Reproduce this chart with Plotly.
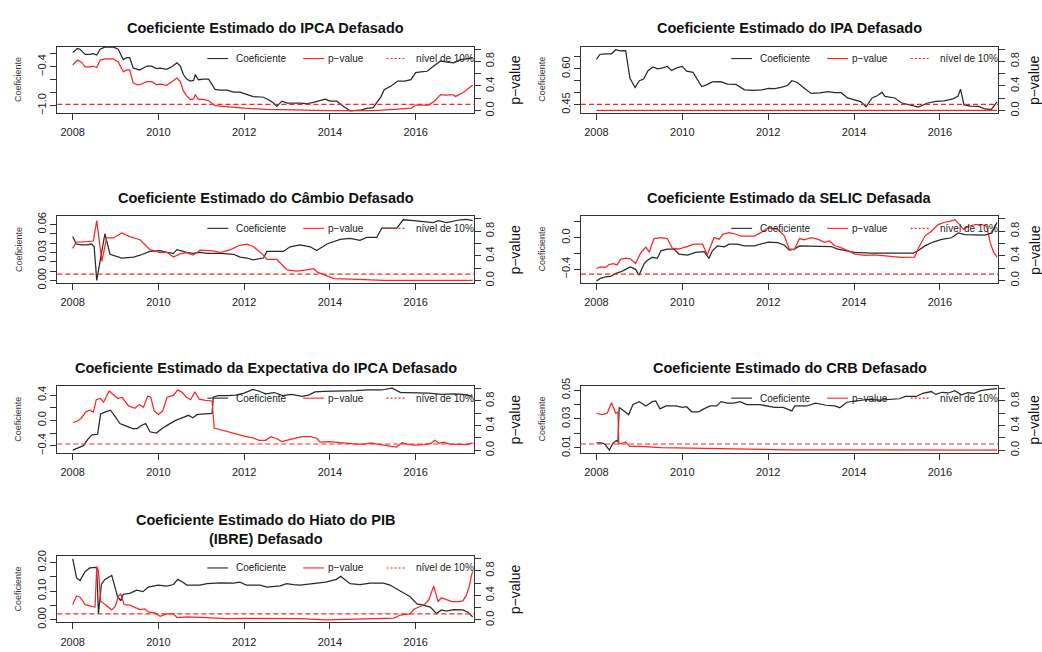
import plotly.graph_objects as go

FONT = "Liberation Sans, Arial, Helvetica, sans-serif"
BLACK = "#2a2a2a"
RED = "#ff2424"
AXIS = "#333333"

# ---------------- IPCA ----------------
ipca_coef_t = [2008.00, 2008.11, 2008.17, 2008.29, 2008.40, 2008.48, 2008.56, 2008.64, 2008.75, 2008.95,
               2009.06, 2009.18, 2009.26, 2009.33, 2009.41, 2009.49, 2009.56, 2009.73, 2009.84, 2009.96,
               2010.04, 2010.19, 2010.31, 2010.43, 2010.51, 2010.58, 2010.66, 2010.74, 2010.82, 2010.86,
               2010.93, 2011.05, 2011.17, 2011.32, 2011.44, 2011.60, 2011.75, 2011.90, 2012.06, 2012.21,
               2012.45, 2012.60, 2012.68, 2012.76, 2012.88, 2013.00, 2013.30, 2013.46, 2013.61, 2013.77,
               2013.89, 2014.00, 2014.16, 2014.31, 2014.47, 2014.70, 2014.86, 2015.01, 2015.19, 2015.27,
               2015.42, 2015.58, 2015.74, 2015.89, 2016.00, 2016.12, 2016.27, 2016.42, 2016.58, 2016.73,
               2016.89, 2017.04, 2017.20, 2017.33]
ipca_coef = [-0.18, -0.12, -0.13, -0.21, -0.21, -0.20, -0.22, -0.13, -0.10, -0.10,
             -0.13, -0.29, -0.26, -0.26, -0.42, -0.44, -0.45, -0.39, -0.39, -0.43,
             -0.42, -0.44, -0.40, -0.34, -0.39, -0.52, -0.59, -0.62, -0.61, -0.52,
             -0.60, -0.59, -0.59, -0.75, -0.76, -0.76, -0.79, -0.79, -0.83, -0.86,
             -0.87, -0.92, -0.96, -1.01, -0.93, -0.96, -0.96, -0.97, -0.95, -0.92,
             -0.90, -0.93, -0.93, -1.01, -1.08, -1.07, -1.04, -1.03, -0.86, -0.75,
             -0.70, -0.62, -0.62, -0.60, -0.49, -0.48, -0.47, -0.39, -0.31, -0.33,
             -0.34, -0.29, -0.28, -0.26]
ipca_p_t = [2008.00, 2008.11, 2008.20, 2008.29, 2008.40, 2008.48, 2008.56, 2008.64, 2008.75, 2008.95,
            2009.06, 2009.18, 2009.26, 2009.33, 2009.41, 2009.49, 2009.56, 2009.73, 2009.84, 2009.96,
            2010.04, 2010.19, 2010.31, 2010.43, 2010.51, 2010.58, 2010.66, 2010.74, 2010.82, 2010.86,
            2010.93, 2011.05, 2011.17, 2011.32, 2011.50, 2011.75, 2012.00, 2012.50, 2013.00, 2013.50,
            2014.00, 2014.50, 2015.00, 2015.50, 2015.90, 2016.00, 2016.30, 2016.45, 2016.58, 2016.70,
            2016.85, 2016.93, 2017.10, 2017.25, 2017.33]
ipca_p = [0.74, 0.82, 0.79, 0.71, 0.71, 0.72, 0.70, 0.82, 0.84, 0.84,
          0.79, 0.63, 0.66, 0.66, 0.45, 0.42, 0.42, 0.47, 0.47, 0.42,
          0.43, 0.41, 0.47, 0.53, 0.47, 0.32, 0.24, 0.18, 0.19, 0.26,
          0.18, 0.18, 0.16, 0.08, 0.07, 0.05, 0.04, 0.02, 0.01, 0.01,
          0.00, 0.00, 0.00, 0.02, 0.04, 0.09, 0.09, 0.16, 0.26, 0.25,
          0.26, 0.23, 0.29, 0.37, 0.41]
ipca_ticks = [-1.0, -0.8, -0.6, -0.4, -0.2]
ipca_ticktext = ["\u22121.0", "", "", "\u22120.4", ""]

# ---------------- IPA ----------------
ipa_coef_t = [2008.00, 2008.08, 2008.20, 2008.35, 2008.45, 2008.55, 2008.68, 2008.78, 2008.90, 2009.00,
              2009.10, 2009.20, 2009.32, 2009.42, 2009.52, 2009.65, 2009.75, 2009.88, 2010.00, 2010.10,
              2010.25, 2010.35, 2010.45, 2010.55, 2010.70, 2010.90, 2011.05, 2011.25, 2011.45, 2011.65,
              2011.85, 2012.00, 2012.15, 2012.30, 2012.45, 2012.55, 2012.68, 2012.85, 2013.00, 2013.20,
              2013.40, 2013.55, 2013.70, 2013.85, 2014.00, 2014.15, 2014.28, 2014.42, 2014.55, 2014.65,
              2014.72, 2014.95, 2015.10, 2015.30, 2015.50, 2015.70, 2015.90, 2016.10, 2016.30, 2016.42,
              2016.48, 2016.56, 2016.70, 2016.90, 2017.05, 2017.20, 2017.33]
ipa_coef = [0.640, 0.660, 0.663, 0.663, 0.680, 0.675, 0.676, 0.560, 0.522, 0.550,
            0.557, 0.592, 0.608, 0.600, 0.603, 0.610, 0.593, 0.605, 0.610, 0.590,
            0.585, 0.555, 0.526, 0.532, 0.545, 0.546, 0.536, 0.535, 0.512, 0.510,
            0.512, 0.518, 0.517, 0.522, 0.530, 0.550, 0.543, 0.518, 0.497, 0.499,
            0.505, 0.500, 0.500, 0.478, 0.470, 0.463, 0.441, 0.478, 0.488, 0.502,
            0.485, 0.478, 0.458, 0.448, 0.440, 0.456, 0.464, 0.466, 0.474, 0.485,
            0.515, 0.450, 0.444, 0.443, 0.432, 0.430, 0.462]
ipa_p_t = [2008.00, 2008.60, 2008.75, 2008.90, 2009.00, 2017.33]
ipa_p = [0.004, 0.004, 0.012, 0.008, 0.003, 0.002]
ipa_ticks = [0.45, 0.50, 0.55, 0.60, 0.65]
ipa_ticktext = ["0.45", "", "", "0.60", ""]

# ---------------- Câmbio ----------------
cambio_coef_t = [2008.00, 2008.08, 2008.21, 2008.33, 2008.44, 2008.50, 2008.56, 2008.64, 2008.75, 2008.87,
                 2009.14, 2009.42, 2009.57, 2009.80, 2010.04, 2010.19, 2010.35, 2010.43, 2010.66, 2010.81,
                 2010.97, 2011.13, 2011.44, 2011.75, 2011.90, 2012.06, 2012.21, 2012.45, 2012.53, 2012.91,
                 2013.07, 2013.30, 2013.54, 2013.69, 2013.93, 2014.24, 2014.47, 2014.70, 2014.86, 2015.09,
                 2015.21, 2015.56, 2015.71, 2015.95, 2016.26, 2016.41, 2016.53, 2016.72, 2017.04, 2017.19,
                 2017.33]
cambio_coef = [0.047, 0.039, 0.038, 0.038, 0.039, 0.036, 0.000, 0.020, 0.050, 0.028,
               0.024, 0.025, 0.027, 0.031, 0.032, 0.030, 0.029, 0.033, 0.030, 0.029,
               0.030, 0.029, 0.029, 0.028, 0.025, 0.024, 0.022, 0.024, 0.031, 0.031,
               0.036, 0.038, 0.036, 0.032, 0.039, 0.044, 0.045, 0.043, 0.046, 0.046,
               0.056, 0.056, 0.065, 0.064, 0.063, 0.062, 0.064, 0.062, 0.065, 0.0655,
               0.064]
cambio_p_t = [2008.00, 2008.08, 2008.33, 2008.48, 2008.56, 2008.68, 2008.79, 2008.95, 2009.14, 2009.33,
              2009.57, 2009.80, 2010.04, 2010.19, 2010.35, 2010.50, 2010.66, 2010.81, 2010.97, 2011.28,
              2011.44, 2011.68, 2011.90, 2012.06, 2012.21, 2012.45, 2012.53, 2012.76, 2013.00, 2013.23,
              2013.46, 2013.62, 2013.72, 2013.93, 2014.09, 2014.50, 2014.86, 2015.25, 2017.33]
cambio_p = [0.52, 0.62, 0.63, 0.64, 0.97, 0.31, 0.69, 0.69, 0.77, 0.71,
            0.66, 0.50, 0.45, 0.46, 0.38, 0.43, 0.45, 0.41, 0.49, 0.48,
            0.45, 0.50, 0.57, 0.59, 0.55, 0.41, 0.34, 0.34, 0.17, 0.15,
            0.17, 0.19, 0.13, 0.08, 0.03, 0.02, 0.01, 0.00, 0.00]
cambio_ticks = [0.00, 0.01, 0.02, 0.03, 0.04, 0.05, 0.06]
cambio_ticktext = ["0.00", "", "", "0.03", "", "", "0.06"]

# ---------------- SELIC ----------------
selic_coef_t = [2008.00, 2008.09, 2008.21, 2008.33, 2008.44, 2008.56, 2008.68, 2008.79, 2008.91, 2008.99,
                2009.11, 2009.18, 2009.30, 2009.42, 2009.50, 2009.65, 2009.81, 2009.92, 2010.12, 2010.31,
                2010.51, 2010.62, 2010.70, 2010.82, 2010.98, 2011.09, 2011.29, 2011.44, 2011.68, 2011.83,
                2012.00, 2012.22, 2012.38, 2012.49, 2012.61, 2012.73, 2013.00, 2013.23, 2013.47, 2013.62,
                2013.86, 2014.01, 2014.40, 2014.79, 2015.18, 2015.38, 2015.49, 2015.65, 2015.84, 2016.04,
                2016.27, 2016.43, 2016.58, 2016.82, 2017.05, 2017.21, 2017.33]
selic_coef = [-0.548, -0.515, -0.495, -0.490, -0.454, -0.433, -0.400, -0.371, -0.400, -0.474,
              -0.330, -0.289, -0.247, -0.260, -0.165, -0.144, -0.144, -0.206, -0.219, -0.186,
              -0.177, -0.260, -0.165, -0.103, -0.115, -0.082, -0.082, -0.103, -0.103, -0.082,
              -0.054, -0.062, -0.095, -0.157, -0.144, -0.103, -0.103, -0.111, -0.111, -0.144,
              -0.165, -0.186, -0.194, -0.194, -0.198, -0.194, -0.165, -0.103, -0.054, -0.021,
              0.000, 0.062, 0.041, 0.033, 0.033, 0.062, 0.194]
selic_p_t = [2008.00, 2008.09, 2008.21, 2008.29, 2008.40, 2008.48, 2008.56, 2008.68, 2008.79, 2008.91,
             2009.03, 2009.15, 2009.23, 2009.34, 2009.50, 2009.65, 2009.77, 2009.92, 2010.12, 2010.27,
             2010.47, 2010.58, 2010.74, 2010.86, 2010.94, 2011.09, 2011.25, 2011.37, 2011.68, 2011.83,
             2012.00, 2012.22, 2012.38, 2012.49, 2012.61, 2012.73, 2012.84, 2013.00, 2013.15, 2013.31,
             2013.43, 2013.55, 2013.66, 2013.86, 2014.00, 2014.25, 2014.48, 2014.71, 2014.87, 2015.10,
             2015.41, 2015.49, 2015.65, 2015.80, 2015.96, 2016.11, 2016.23, 2016.35, 2016.48, 2016.55,
             2016.67, 2016.82, 2016.98, 2017.09, 2017.17, 2017.25, 2017.33]
selic_p = [0.193, 0.220, 0.210, 0.257, 0.273, 0.250, 0.342, 0.363, 0.350, 0.273,
           0.447, 0.537, 0.458, 0.680, 0.696, 0.680, 0.520, 0.510, 0.553, 0.590,
           0.590, 0.416, 0.696, 0.670, 0.749, 0.776, 0.750, 0.720, 0.720, 0.776,
           0.855, 0.830, 0.720, 0.510, 0.500, 0.680, 0.660, 0.696, 0.670, 0.617,
           0.640, 0.563, 0.540, 0.485, 0.432, 0.405, 0.416, 0.400, 0.379, 0.375,
           0.379, 0.510, 0.720, 0.800, 0.907, 0.945, 0.960, 0.987, 0.890, 0.830,
           0.880, 0.907, 0.907, 0.880, 0.617, 0.458, 0.379]
selic_ticks = [-0.4, -0.2, 0.0, 0.2]
selic_ticktext = ["\u22120.4", "", "0.0", ""]

# ---------------- Expectativa do IPCA ----------------
expec_coef_t = [2008.00, 2008.10, 2008.25, 2008.35, 2008.45, 2008.58, 2008.65, 2008.75, 2008.88, 2009.00,
                2009.10, 2009.25, 2009.40, 2009.50, 2009.60, 2009.70, 2009.80, 2009.95, 2010.10, 2010.25,
                2010.40, 2010.55, 2010.70, 2010.80, 2010.90, 2011.00, 2011.15, 2011.25, 2011.28, 2011.40,
                2011.60, 2011.80, 2012.00, 2012.20, 2012.35, 2012.50, 2012.70, 2012.90, 2013.10, 2013.35,
                2013.50, 2013.65, 2013.85, 2014.00, 2014.30, 2014.60, 2014.90, 2015.20, 2015.45, 2015.55,
                2015.65, 2015.80, 2016.00, 2016.30, 2016.60, 2016.90, 2017.10, 2017.33]
expec_coef = [-0.47, -0.44, -0.40, -0.30, -0.23, -0.22, 0.10, 0.13, 0.16, 0.05,
              -0.05, -0.09, -0.13, -0.13, -0.08, -0.05, -0.18, -0.20, -0.12, -0.06,
              0.00, 0.04, 0.08, 0.04, 0.09, 0.10, 0.10, 0.11, 0.37, 0.39,
              0.39, 0.40, 0.43, 0.49, 0.46, 0.42, 0.44, 0.39, 0.41, 0.38,
              0.40, 0.45, 0.46, 0.46, 0.47, 0.47, 0.48, 0.48, 0.51, 0.47,
              0.44, 0.44, 0.44, 0.43, 0.41, 0.42, 0.41, 0.38]
expec_p_t = [2008.00, 2008.10, 2008.20, 2008.30, 2008.40, 2008.48, 2008.55, 2008.65, 2008.72, 2008.85,
             2008.95, 2009.05, 2009.15, 2009.30, 2009.45, 2009.55, 2009.65, 2009.75, 2009.82, 2009.90,
             2010.00, 2010.10, 2010.20, 2010.35, 2010.45, 2010.55, 2010.65, 2010.75, 2010.85, 2010.95,
             2011.10, 2011.25, 2011.30, 2011.45, 2011.60, 2011.80, 2012.00, 2012.20, 2012.35, 2012.50,
             2012.62, 2012.75, 2012.88, 2013.10, 2013.35, 2013.55, 2013.70, 2013.77, 2014.00, 2014.30,
             2014.60, 2014.80, 2014.95, 2015.10, 2015.30, 2015.55, 2015.68, 2015.85, 2016.00, 2016.20,
             2016.35, 2016.45, 2016.55, 2016.65, 2016.80, 2017.00, 2017.20, 2017.33]
expec_p = [0.45, 0.47, 0.52, 0.62, 0.65, 0.62, 0.82, 0.84, 0.78, 0.96,
           0.90, 0.84, 0.86, 0.72, 0.68, 0.74, 0.70, 0.88, 0.86, 0.64,
           0.58, 0.64, 0.86, 0.89, 0.98, 0.94, 0.86, 0.82, 0.95, 0.83,
           0.81, 0.80, 0.36, 0.33, 0.30, 0.26, 0.23, 0.20, 0.16, 0.16,
           0.22, 0.19, 0.14, 0.18, 0.22, 0.22, 0.19, 0.13, 0.14, 0.12,
           0.10, 0.10, 0.12, 0.10, 0.08, 0.05, 0.12, 0.09, 0.08, 0.09,
           0.11, 0.16, 0.11, 0.13, 0.10, 0.09, 0.09, 0.12]
expec_ticks = [-0.4, -0.2, 0.0, 0.2, 0.4]
expec_ticktext = ["\u22120.4", "", "0.0", "", "0.4"]

# ---------------- CRB ----------------
crb_coef_t = [2008.00, 2008.12, 2008.20, 2008.30, 2008.38, 2008.46, 2008.50, 2008.53, 2008.62, 2008.75,
              2008.85, 2009.00, 2009.15, 2009.30, 2009.38, 2009.48, 2009.62, 2009.85, 2010.00, 2010.10,
              2010.22, 2010.38, 2010.50, 2010.65, 2010.80, 2010.90, 2011.05, 2011.20, 2011.35, 2011.50,
              2011.80, 2011.95, 2012.15, 2012.35, 2012.55, 2012.62, 2012.90, 2013.10, 2013.35, 2013.55,
              2013.67, 2013.83, 2014.00, 2014.15, 2014.32, 2014.60, 2014.90, 2015.05, 2015.20, 2015.45,
              2015.60, 2015.80, 2015.90, 2016.05, 2016.20, 2016.35, 2016.50, 2016.65, 2016.80, 2016.95,
              2017.10, 2017.33]
crb_coef = [0.0135, 0.0135, 0.0125, 0.0085, 0.0130, 0.0150, 0.0140, 0.0380, 0.0360, 0.0330,
            0.0400, 0.0420, 0.0390, 0.0420, 0.0425, 0.0370, 0.0390, 0.0390, 0.0380, 0.0385,
            0.0350, 0.0350, 0.0370, 0.0390, 0.0390, 0.0420, 0.0410, 0.0410, 0.0420, 0.0400,
            0.0400, 0.0390, 0.0380, 0.0380, 0.0356, 0.0390, 0.0390, 0.0410, 0.0395, 0.0390,
            0.0378, 0.0416, 0.0422, 0.0425, 0.0435, 0.0430, 0.0435, 0.0440, 0.0456, 0.0456,
            0.0478, 0.0490, 0.0470, 0.0485, 0.0480, 0.0496, 0.0467, 0.0482, 0.0478, 0.0496,
            0.0504, 0.0511]
crb_p_t = [2008.00, 2008.12, 2008.25, 2008.35, 2008.45, 2008.50, 2008.52, 2008.60, 2008.68, 2008.78,
           2009.00, 2009.50, 2010.00, 2010.50, 2010.80, 2011.50, 2012.50, 2013.50, 2017.33]
crb_p = [0.60, 0.58, 0.60, 0.77, 0.60, 0.62, 0.10, 0.11, 0.13, 0.06,
         0.06, 0.04, 0.035, 0.025, 0.015, 0.010, 0.005, 0.003, 0.002]
crb_ticks = [0.01, 0.02, 0.03, 0.04, 0.05]
crb_ticktext = ["0.01", "", "0.03", "", "0.05"]

# ---------------- Hiato do PIB (IBRE) ----------------
hiato_coef_t = [2008.00, 2008.09, 2008.17, 2008.29, 2008.40, 2008.52, 2008.56, 2008.60, 2008.67, 2008.75,
                2008.91, 2009.04, 2009.12, 2009.18, 2009.33, 2009.49, 2009.64, 2009.76, 2009.99, 2010.19,
                2010.35, 2010.45, 2010.57, 2010.66, 2010.97, 2011.13, 2011.44, 2011.75, 2011.90, 2012.05,
                2012.37, 2012.53, 2012.84, 2012.99, 2013.15, 2013.30, 2013.60, 2013.90, 2014.15, 2014.25,
                2014.30, 2014.47, 2014.70, 2014.94, 2015.25, 2015.40, 2015.64, 2015.87, 2016.03, 2016.18,
                2016.34, 2016.49, 2016.60, 2016.72, 2016.88, 2017.10, 2017.22, 2017.33]
hiato_coef = [0.213, 0.146, 0.137, 0.169, 0.181, 0.183, 0.181, 0.021, 0.124, 0.141,
              0.155, 0.083, 0.066, 0.089, 0.092, 0.103, 0.098, 0.114, 0.121, 0.117,
              0.123, 0.141, 0.131, 0.121, 0.121, 0.126, 0.129, 0.128, 0.131, 0.121,
              0.121, 0.114, 0.118, 0.126, 0.123, 0.121, 0.126, 0.131, 0.141, 0.152,
              0.146, 0.126, 0.123, 0.128, 0.128, 0.121, 0.100, 0.080, 0.055, 0.051,
              0.044, 0.021, 0.034, 0.030, 0.035, 0.034, 0.026, 0.009]
hiato_p_t = [2008.00, 2008.09, 2008.17, 2008.29, 2008.44, 2008.52, 2008.56, 2008.60, 2008.65, 2008.75,
             2008.91, 2008.99, 2009.07, 2009.12, 2009.20, 2009.33, 2009.45, 2009.57, 2009.68, 2009.76,
             2009.92, 2010.04, 2010.20, 2010.35, 2010.43, 2010.66, 2011.13, 2011.60, 2012.05, 2012.53,
             2013.30, 2013.90, 2014.45, 2015.25, 2015.50, 2015.64, 2015.87, 2015.95, 2016.05, 2016.20,
             2016.30, 2016.42, 2016.52, 2016.60, 2016.72, 2016.85, 2017.00, 2017.10, 2017.18, 2017.25,
             2017.30, 2017.33]
hiato_p = [0.25, 0.39, 0.37, 0.25, 0.22, 0.21, 0.87, 0.80, 0.31, 0.25,
           0.165, 0.22, 0.39, 0.42, 0.25, 0.24, 0.20, 0.17, 0.18, 0.13,
           0.11, 0.06, 0.10, 0.10, 0.04, 0.05, 0.04, 0.02, 0.025, 0.02,
           0.02, 0.00, 0.01, 0.015, 0.03, 0.08, 0.10, 0.17, 0.20, 0.25,
           0.32, 0.55, 0.30, 0.36, 0.33, 0.30, 0.30, 0.31, 0.40, 0.55,
           0.72, 0.79]
hiato_ticks = [0.00, 0.05, 0.10, 0.15, 0.20]
hiato_ticktext = ["0.00", "", "0.10", "", "0.20"]

# shared axes
year_ticks = [2008, 2010, 2012, 2014, 2016]
year_ticktext = ["2008", "2010", "2012", "2014", "2016"]
p_ticks = [0.0, 0.2, 0.4, 0.6, 0.8, 1.0]
p_ticktext = ["0.0", "", "0.4", "", "0.8", ""]
p_level = 0.1
legend_labels = ["Coeficiente", "p\u2212value", "n\u00edvel de 10%"]

panels = [
    dict(title="Coeficiente Estimado do IPCA Defasado", coef=(ipca_coef_t, ipca_coef),
         pval=(ipca_p_t, ipca_p), ticks=(ipca_ticks, ipca_ticktext), yr=[-1.113, -0.09], row=0, col=0),
    dict(title="Coeficiente Estimado do IPA Defasado", coef=(ipa_coef_t, ipa_coef),
         pval=(ipa_p_t, ipa_p), ticks=(ipa_ticks, ipa_ticktext), yr=[0.415, 0.693], row=0, col=1),
    dict(title="Coeficiente Estimado do C\u00e2mbio Defasado", coef=(cambio_coef_t, cambio_coef),
         pval=(cambio_p_t, cambio_p), ticks=(cambio_ticks, cambio_ticktext), yr=[-0.0026, 0.0686], row=1, col=0),
    dict(title="Coeficiente Estimado da SELIC Defasada", coef=(selic_coef_t, selic_coef),
         pval=(selic_p_t, selic_p), ticks=(selic_ticks, selic_ticktext), yr=[-0.571, 0.271], row=1, col=1),
    dict(title="Coeficiente Estimado da Expectativa do IPCA Defasado", coef=(expec_coef_t, expec_coef),
         pval=(expec_p_t, expec_p), ticks=(expec_ticks, expec_ticktext), yr=[-0.51, 0.54], row=2, col=0),
    dict(title="Coeficiente Estimado do CRB Defasado", coef=(crb_coef_t, crb_coef),
         pval=(crb_p_t, crb_p), ticks=(crb_ticks, crb_ticktext), yr=[0.0067, 0.0527], row=2, col=1),
    dict(title="Coeficiente Estimado do Hiato do PIB<br>(IBRE) Defasado", coef=(hiato_coef_t, hiato_coef),
         pval=(hiato_p_t, hiato_p), ticks=(hiato_ticks, hiato_ticktext), yr=[-0.010, 0.223], row=3, col=0),
]

W, H = 1042, 652
col_px = [(57.3, 474.0), (581.0, 998.3)]
pval_title_off = [41, 36]
row_top_px = [39.5, 213.3, 387.1, 560.9]
box_h = 68.0

fig = go.Figure()
layout = dict(
    width=W, height=H, autosize=False,
    margin=dict(l=0, r=0, t=0, b=0),
    paper_bgcolor="white", plot_bgcolor="white",
    font=dict(family=FONT, size=10, color="#222"),
    showlegend=False,
)
annotations = []
shapes = []

tickfont = dict(family=FONT, size=11, color="#222")

for i, pn in enumerate(panels, start=1):
    j = i + 7
    xname = "x" if i == 1 else f"x{i}"
    yname = "y" if i == 1 else f"y{i}"
    y2name = f"y{j}"
    x0, x1 = col_px[pn["col"]]
    top = row_top_px[pn["row"]]
    bot = top + box_h
    xdom = [x0 / W, x1 / W]
    ydom = [1 - bot / H, 1 - top / H]

    layout["xaxis" if i == 1 else f"xaxis{i}"] = dict(
        domain=xdom, anchor=yname, range=[2007.64, 2017.36],
        tickvals=year_ticks, ticktext=year_ticktext, ticks="outside", ticklen=6,
        ticklabelstandoff=3,
        tickcolor=AXIS, tickwidth=1, tickfont=tickfont,
        showline=True, mirror=True, linecolor=AXIS, linewidth=1,
        showgrid=False, zeroline=False, fixedrange=True,
    )
    tv, tt = pn["ticks"]
    layout["yaxis" if i == 1 else f"yaxis{i}"] = dict(
        domain=ydom, anchor=xname, range=pn["yr"],
        tickvals=tv, ticktext=tt, ticks="outside", ticklen=6, tickangle=-90,
        tickcolor=AXIS, tickwidth=1, tickfont=tickfont,
        showline=True, mirror=True, linecolor=AXIS, linewidth=1,
        showgrid=False, zeroline=False, fixedrange=True,
    )
    layout[f"yaxis{j}"] = dict(
        domain=ydom, anchor=xname, overlaying=yname, side="right", range=[-0.04, 1.04],
        tickvals=p_ticks, ticktext=p_ticktext, ticks="outside", ticklen=6, tickangle=-90,
        tickcolor=AXIS, tickwidth=1, tickfont=tickfont,
        showline=False, showgrid=False, zeroline=False, fixedrange=True,
    )

    ct, cv = pn["coef"]
    fig.add_trace(go.Scatter(x=ct, y=cv, xaxis=xname, yaxis=yname, mode="lines",
                             line=dict(color=BLACK, width=1.25), hoverinfo="skip"))
    pt, pv = pn["pval"]
    fig.add_trace(go.Scatter(x=pt, y=pv, xaxis=xname, yaxis=y2name, mode="lines",
                             line=dict(color=RED, width=1.25), hoverinfo="skip"))

    # 10% reference level on the p-value axis
    shapes.append(dict(type="line", xref=f"{xname} domain", yref=y2name,
                       x0=0, x1=1, y0=p_level, y1=p_level,
                       line=dict(color=RED, width=1.2, dash="5px,3px")))

    # title
    cx = (x0 + x1) / 2 / W
    two_lines = "<br>" in pn["title"]
    ty = top - (27.5 if two_lines else 18.8)
    annotations.append(dict(text=f"<b>{pn['title']}</b>", x=cx, y=1 - ty / H, xref="paper", yref="paper",
                            xanchor="center", yanchor="middle", showarrow=False,
                            font=dict(family=FONT, size=14.5, color="#111")))
    # axis titles
    cy = 1 - (top + bot) / 2 / H
    annotations.append(dict(text="Coeficiente", x=(x0 - 39) / W, y=cy, xref="paper", yref="paper",
                            xanchor="center", yanchor="middle", textangle=-90, showarrow=False,
                            font=dict(family=FONT, size=9, color="#3a3340")))
    annotations.append(dict(text="p\u2212value", x=(x1 + pval_title_off[pn["col"]]) / W, y=cy,
                            xref="paper", yref="paper",
                            xanchor="center", yanchor="middle", textangle=-90, showarrow=False,
                            font=dict(family=FONT, size=14, color="#111")))

    # legend row inside the box
    ly = 0.82
    samples = [(0.360, 0.410, BLACK, "solid"), (0.590, 0.640, RED, "solid"), (0.790, 0.835, RED, "2px,2px")]
    text_x = [0.425, 0.645, 0.855]
    for (sx0, sx1, colr, dash), tx, lab in zip(samples, text_x, legend_labels):
        shapes.append(dict(type="line", xref=f"{xname} domain", yref=f"{yname} domain",
                           x0=sx0, x1=sx1, y0=ly, y1=ly, line=dict(color=colr, width=1.1, dash=dash)))
        annotations.append(dict(text=lab, x=tx, y=ly, xref=f"{xname} domain", yref=f"{yname} domain",
                                xanchor="left", yanchor="middle", showarrow=False,
                                font=dict(family=FONT, size=10, color="#222")))

layout["annotations"] = annotations
layout["shapes"] = shapes
fig.update_layout(**layout)
fig.write_html("out.html")
